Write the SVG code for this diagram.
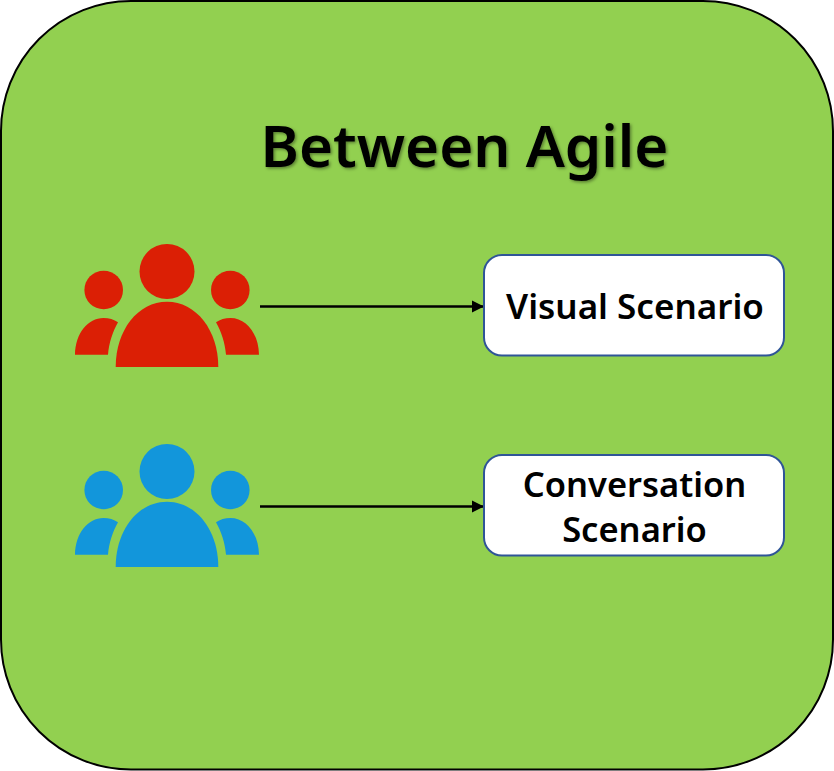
<svg xmlns="http://www.w3.org/2000/svg" width="834" height="771" viewBox="0 0 834 771">
<style>
.t{font-family:"Noto Sans","Open Sans","Liberation Sans",sans-serif;font-weight:600;fill:#000;text-anchor:middle}
.box{fill:#fff;stroke:#2F5597;stroke-width:2}
.conn{stroke:#000;stroke-width:2.6;fill:none;marker-end:url(#arr)}
</style>
<defs>
<marker id="arr" markerUnits="userSpaceOnUse" markerWidth="14" markerHeight="14" refX="13" refY="7" orient="auto"><path d="M1,1 L13,7 L1,13 Z" fill="#000"/></marker>
<filter id="sh" x="-5%" y="-20%" width="110%" height="140%"><feDropShadow dx="1.5" dy="1.5" stdDeviation="1.5" flood-color="#000" flood-opacity="0.4"/></filter>
<g id="people">
<circle cx="167" cy="271.5" r="27.5"/>
<circle cx="103.7" cy="290" r="19.3"/>
<circle cx="230.3" cy="290" r="19.3"/>
<path d="M115.7,367 C115.7,330 138,301.7 167,301.7 C196,301.7 218.3,330 218.3,367 Z"/>
<path d="M75,354.7 C75.500,333 88,318 103.500,318 C109,318 114,319.500 118,322.300 C112.500,332 109,343 108,354.700 Z"/>
<path d="M259,354.700 C258.500,333 246,318 230.500,318 C225,318 220,319.500 216,322.300 C221.500,332 225,343 226,354.700 Z"/>
</g>
</defs>
<g id="background"><rect x="1" y="1" width="832" height="768.500" rx="130" ry="130" fill="#92D050" stroke="#000" stroke-width="2"/></g>
<g id="title"><text class="t" x="464.500" y="167" font-size="58.300" filter="url(#sh)">Between Agile</text></g>
<g id="connectors">
<path class="conn" d="M260,306.500 H484"/>
<path class="conn" d="M260,506.500 H484"/>
</g>
<g id="people-red"><use href="#people" fill="#DB1F05"/></g>
<g id="people-blue"><use href="#people" y="200" fill="#1296DB"/></g>
<g id="visual-scenario">
<rect class="box" x="484" y="255" width="300" height="100.500" rx="18"/>
<text class="t" x="635" y="319" font-size="35">Visual Scenario</text>
</g>
<g id="conversation-scenario">
<rect class="box" x="484" y="455" width="300" height="100.500" rx="18"/>
<text class="t" x="634.500" y="497" font-size="34.500">Conversation</text>
<text class="t" x="634.500" y="542" font-size="34.500">Scenario</text>
</g>
</svg>
